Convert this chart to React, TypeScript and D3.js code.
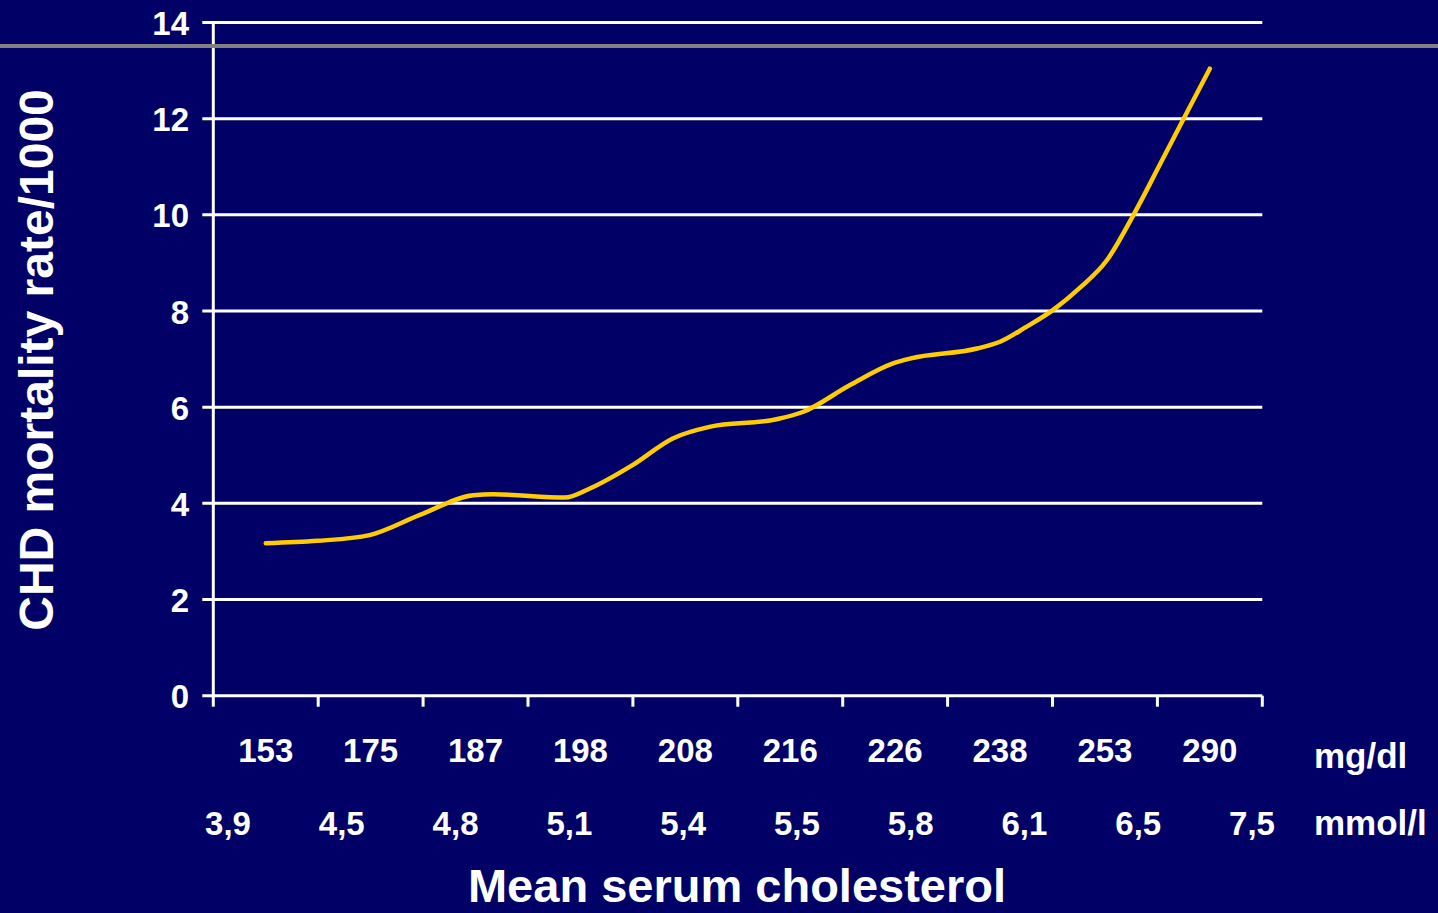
import React from "react";
import * as d3 from "d3";

const mgdlLabels = ["153", "175", "187", "198", "208", "216", "226", "238", "253", "290"];
const mmolLabels = ["3,9", "4,5", "4,8", "5,1", "5,4", "5,5", "5,8", "6,1", "6,5", "7,5"];
const yTicks = [0, 2, 4, 6, 8, 10, 12, 14];

// Curve position along the category axis (0 = first category centre) and CHD rate
const curvePos = [0, 0.49, 0.99, 1.47, 1.98, 2.17, 2.85, 3.09, 3.5, 3.88, 4.23, 4.87, 5.12, 5.57, 5.98, 6.14, 6.78, 7.0, 7.25, 7.51, 7.76, 8.02, 8.27, 8.52, 8.75, 9.0];
const curveRate = [3.17, 3.22, 3.34, 3.76, 4.17, 4.19, 4.12, 4.31, 4.8, 5.35, 5.59, 5.75, 5.9, 6.46, 6.91, 7.01, 7.22, 7.36, 7.67, 8.03, 8.48, 9.06, 9.99, 11.03, 12.0, 13.04];

const W = 1438;
const H = 913;
const BG = "#000066";
const FONT = "'Liberation Sans', Arial, sans-serif";

export default function App() {
  const x = d3.scaleBand<string>().domain(mgdlLabels).range([213.3, 1262.3]).padding(0);
  const bw = x.bandwidth();
  const xPos = d3
    .scaleLinear()
    .domain([0, mgdlLabels.length - 1])
    .range([(x(mgdlLabels[0]) as number) + bw / 2, (x(mgdlLabels[mgdlLabels.length - 1]) as number) + bw / 2]);
  const xMmol = d3.scalePoint<string>().domain(mmolLabels).range([228, 1252]);
  const y = d3.scaleLinear().domain([0, 14]).range([695.7, 22.5]);

  const pts: [number, number][] = curvePos.map((p, i) => [p, curveRate[i]]);
  const line = d3
    .line<[number, number]>()
    .x((d) => xPos(d[0]))
    .y((d) => y(d[1]))
    .curve(d3.curveMonotoneX);

  const x0 = x.range()[0];
  const x1 = x.range()[1];
  const tickEdges = [...mgdlLabels.map((c) => x(c) as number), x1];

  return (
    <svg
      width={W}
      height={H}
      style={{ position: "absolute", left: 0, top: 0, display: "block" }}
      fontFamily={FONT}
      fontWeight="bold"
    >
      <rect x={0} y={0} width={W} height={H} fill={BG} />
      {/* gridlines + y ticks */}
      {yTicks.map((t) => (
        <g key={t}>
          <line x1={x0 - 11} x2={x1} y1={y(t)} y2={y(t)} stroke="#ffffff" strokeWidth={3} />
          <text x={189} y={y(t) + 12.5} textAnchor="end" fill="#ffffff" fontSize={33}>
            {t}
          </text>
        </g>
      ))}
      {/* y axis */}
      <line x1={x0} x2={x0} y1={y(14)} y2={y(0)} stroke="#ffffff" strokeWidth={3} />
      {/* x ticks */}
      {tickEdges.map((e, i) => (
        <line key={i} x1={e} x2={e} y1={y(0)} y2={y(0) + 11} stroke="#ffffff" strokeWidth={3} />
      ))}
      {/* mg/dl labels */}
      {mgdlLabels.map((c) => (
        <text key={c} x={(x(c) as number) + bw / 2} y={761.5} textAnchor="middle" fill="#ffffff" fontSize={33}>
          {c}
        </text>
      ))}
      <text x={1314} y={767.5} fill="#ffffff" fontSize={35}>
        mg/dl
      </text>
      {/* mmol/l labels */}
      {mmolLabels.map((c) => (
        <text key={c} x={xMmol(c) as number} y={835} textAnchor="middle" fill="#ffffff" fontSize={33}>
          {c}
        </text>
      ))}
      <text x={1314} y={835} fill="#ffffff" fontSize={35}>
        mmol/l
      </text>
      {/* curve */}
      <path d={line(pts) || ""} fill="none" stroke="#ffcc00" strokeWidth={4.5} strokeLinecap="round" strokeLinejoin="round" />
      {/* gray rule */}
      <line x1={0} x2={W} y1={46} y2={46} stroke="#808080" strokeWidth={4} />
      {/* titles */}
      <text
        transform={`translate(53, 360) rotate(-90)`}
        textAnchor="middle"
        fill="#ffffff"
        fontSize={48}
      >
        CHD mortality rate/1000
      </text>
      <text x={737} y={902} textAnchor="middle" fill="#ffffff" fontSize={47}>
        Mean serum cholesterol
      </text>
    </svg>
  );
}
